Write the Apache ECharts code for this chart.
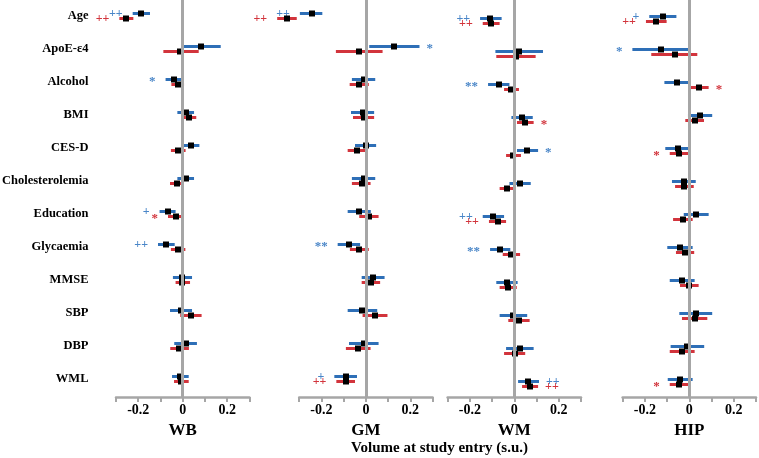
<!DOCTYPE html>
<html>
<head>
<meta charset="utf-8">
<script src="https://cdn.jsdelivr.net/npm/echarts@6/dist/echarts.min.js"></script>
<style>html,body{margin:0;padding:0;background:#fff}#c{width:759px;height:458px}</style>
</head>
<body>
<div id="c"></div>
<script>
// ---------- DATA ----------
const categories = ['Age','ApoE-ε4','Alcohol','BMI','CES-D','Cholesterolemia','Education','Glycaemia','MMSE','SBP','DBP','WML'];
const panelNames = ['WB','GM','WM','HIP'];
const tickLabels = ['-0.2','0','0.2'];
const axisTitle = 'Volume at study entry (s.u.)';

// WB
const wbBlueEst = [-0.188, 0.084, -0.041, 0.013, 0.037, 0.013, -0.068, -0.074, -0.002, -0.008, 0.013, -0.011];
const wbBlueLo  = [-0.225, 0.000, -0.077, -0.024, 0.000, -0.024, -0.104, -0.111, -0.044, -0.057, -0.038, -0.048];
const wbBlueHi  = [-0.147, 0.171, 0.000, 0.051, 0.075, 0.051, -0.032, -0.036, 0.042, 0.042, 0.064, 0.027];
const wbRedEst  = [-0.254, -0.011, -0.021, 0.027, -0.021, -0.026, -0.030, -0.020, -0.002, 0.036, -0.017, -0.006];
const wbRedLo   = [-0.285, -0.087, -0.051, -0.006, -0.053, -0.057, -0.066, -0.053, -0.032, -0.011, -0.056, -0.039];
const wbRedHi   = [-0.222, 0.072, 0.006, 0.061, 0.013, 0.004, 0.003, 0.012, 0.033, 0.085, 0.028, 0.027];
const wbBlueMark = ['++','','*','','','','+','++','','','',''];
const wbRedMark  = ['++','','','','','','*','','','','',''];

// GM
const gmBlueEst = [-0.244, 0.127, -0.010, -0.015, -0.001, -0.010, -0.030, -0.078, 0.031, -0.017, -0.010, -0.091];
const gmBlueLo  = [-0.297, 0.015, -0.063, -0.067, -0.049, -0.063, -0.082, -0.127, -0.019, -0.082, -0.076, -0.142];
const gmBlueHi  = [-0.196, 0.241, 0.042, 0.037, 0.046, 0.042, 0.022, -0.026, 0.084, 0.051, 0.057, -0.040];
const gmRedEst  = [-0.355, -0.030, -0.030, -0.010, -0.039, -0.019, 0.012, -0.031, 0.022, 0.040, -0.036, -0.091];
const gmRedLo   = [-0.399, -0.135, -0.073, -0.058, -0.082, -0.063, -0.030, -0.072, -0.019, -0.015, -0.090, -0.133];
const gmRedHi   = [-0.311, 0.075, 0.013, 0.037, 0.001, 0.021, 0.057, 0.013, 0.064, 0.097, 0.021, -0.049];
const gmBlueMark = ['++','*','','','','','','**','','','','+'];
const gmRedMark  = ['++','','','','','','','','','','','++'];

// WM
const wmBlueEst = [-0.108, 0.021, -0.070, 0.035, 0.058, 0.026, -0.094, -0.066, -0.033, -0.004, 0.026, 0.063];
const wmBlueLo  = [-0.154, -0.085, -0.118, -0.013, 0.012, -0.022, -0.142, -0.109, -0.081, -0.066, -0.037, 0.017];
const wmBlueHi  = [-0.057, 0.129, -0.022, 0.083, 0.107, 0.074, -0.046, -0.018, 0.015, 0.058, 0.087, 0.111];
const wmRedEst  = [-0.103, 0.006, -0.013, 0.048, -0.004, -0.033, -0.075, -0.013, -0.027, 0.021, 0.002, 0.072];
const wmRedLo   = [-0.142, -0.081, -0.046, 0.012, -0.037, -0.066, -0.114, -0.052, -0.066, -0.027, -0.046, 0.035];
const wmRedHi   = [-0.066, 0.096, 0.021, 0.087, 0.030, 0.002, -0.037, 0.026, 0.011, 0.069, 0.049, 0.107];
const wmBlueMark = ['++','','**','','*','','++','**','','','','++'];
const wmRedMark  = ['++','','','*','','','++','','','','','++'];

// HIP
const hipBlueEst = [-0.118, -0.127, -0.057, 0.048, -0.052, -0.024, 0.029, -0.042, -0.033, 0.030, -0.010, -0.042];
const hipBlueLo  = [-0.180, -0.256, -0.112, -0.006, -0.108, -0.078, -0.025, -0.099, -0.088, -0.045, -0.084, -0.097];
const hipBlueHi  = [-0.058, 0.000, 0.000, 0.103, 0.003, 0.029, 0.087, 0.015, 0.024, 0.103, 0.067, 0.015];
const hipRedEst  = [-0.148, -0.066, 0.042, 0.024, -0.048, -0.024, -0.028, -0.019, 0.000, 0.024, -0.033, -0.048];
const hipRedLo   = [-0.195, -0.171, 0.004, -0.018, -0.088, -0.064, -0.073, -0.060, -0.042, -0.033, -0.088, -0.088];
const hipRedHi   = [-0.102, 0.036, 0.087, 0.066, -0.003, 0.020, 0.015, 0.022, 0.042, 0.081, 0.024, -0.003];
const hipBlueMark = ['+','*','','','','','','','','','',''];
const hipRedMark  = ['++','','*','','*','','','','','','','*'];

// ---------- LAYOUT / STYLE ----------
const FONT = '"Liberation Serif", "Times New Roman", serif';
const BLUE = '#2e6fb7', RED = '#d2343c', BLUE_MARK = '#4a86c8', RED_MARK = '#d2343c';
const AXIS_GREY = '#a6a6a6';
const panelLeft = [116, 299.2, 447.6, 622.6];
const panelWidth = 133.4;
const panelRowTop = [15.3, 15.5, 20.2, 18.5]; // pixel centre of first row
const ROW_PX = 33, GRID_H = 397;

const panelSeries = [
  [[wbBlueEst, wbBlueLo, wbBlueHi, wbBlueMark], [wbRedEst, wbRedLo, wbRedHi, wbRedMark]],
  [[gmBlueEst, gmBlueLo, gmBlueHi, gmBlueMark], [gmRedEst, gmRedLo, gmRedHi, gmRedMark]],
  [[wmBlueEst, wmBlueLo, wmBlueHi, wmBlueMark], [wmRedEst, wmRedLo, wmRedHi, wmRedMark]],
  [[hipBlueEst, hipBlueLo, hipBlueHi, hipBlueMark], [hipRedEst, hipRedLo, hipRedHi, hipRedMark]]
];

function makeRender(color, markColor, offset, marks) {
  return function (params, api) {
    const row = api.value(0), est = api.value(1), lo = api.value(2), hi = api.value(3);
    const pE = api.coord([est, row]);
    const xLo = api.coord([lo, row])[0];
    const xHi = api.coord([hi, row])[0];
    const y = Math.round(pE[1] + offset) + 0.5;
    const cx = Math.round(pE[0]);
    const children = [
      { type: 'line', shape: { x1: xLo, y1: y, x2: xHi, y2: y }, style: { stroke: color, lineWidth: 3 } },
      { type: 'rect', shape: { x: cx - 3, y: y - 3, width: 6, height: 6 }, style: { fill: '#000', stroke: null } }
    ];
    const m = marks[params.dataIndex];
    if (m) {
      const left = est < 0;
      const star = m.indexOf('*') >= 0;
      children.push({
        type: 'text',
        style: {
          text: m, x: left ? xLo - 10 : xHi + 7, y: y + (star ? 2 : 0),
          align: left ? 'right' : 'left', verticalAlign: 'middle',
          fill: markColor, font: 'bold ' + (star ? 13 : 12) + 'px ' + FONT
        }
      });
    }
    return { type: 'group', children: children };
  };
}

const grids = [], xAxes = [], yAxes = [], series = [];
panelNames.forEach((name, p) => {
  grids.push({ left: panelLeft[p], width: panelWidth, top: 0, height: GRID_H, containLabel: false });
  xAxes.push({
    type: 'value', gridIndex: p, min: -0.3, max: 0.3, interval: 0.1,
    name: name, nameLocation: 'middle', nameGap: 23,
    nameTextStyle: { fontFamily: FONT, fontWeight: 'bold', fontSize: 17, color: '#000' },
    axisLine: { show: true, onZero: false, lineStyle: { color: AXIS_GREY, width: 2.5 } },
    axisTick: { show: true, length: 5, lineStyle: { color: AXIS_GREY, width: 2 } },
    splitLine: { show: false },
    axisLabel: {
      margin: 6, fontFamily: FONT, fontWeight: 'bold', fontSize: 14, color: '#000',
      formatter: function (v) {
        const r = Math.round(v * 10) / 10;
        const s = r === 0 ? '0' : r.toFixed(1);
        return tickLabels.indexOf(s) >= 0 ? s : '';
      }
    }
  });
  const yMin = -panelRowTop[p] / ROW_PX;
  yAxes.push({ type: 'value', gridIndex: p, inverse: true, min: yMin, max: yMin + GRID_H / ROW_PX, show: false });

  // zero reference line
  series.push({
    type: 'line', xAxisIndex: p, yAxisIndex: p, data: [], z: 1, silent: true,
    markLine: {
      silent: true, symbol: 'none', animation: false, label: { show: false },
      lineStyle: { color: AXIS_GREY, width: 3, type: 'solid' },
      data: [{ xAxis: 0 }]
    }
  });

  const [blue, red] = panelSeries[p];
  [[blue, BLUE, BLUE_MARK, -2.7], [red, RED, RED_MARK, 2.7]].forEach(([s, col, mcol, off]) => {
    series.push({
      type: 'custom', xAxisIndex: p, yAxisIndex: p, clip: false, z: 3, silent: true, animation: false,
      renderItem: makeRender(col, mcol, off, s[3]),
      encode: { x: [1, 2, 3], y: 0 },
      data: categories.map((c, i) => [i, s[0][i], s[1][i], s[2][i]])
    });
  });
});

// row labels (drawn on WB panel)
series.push({
  type: 'custom', xAxisIndex: 0, yAxisIndex: 0, clip: false, z: 4, silent: true, animation: false,
  encode: { y: 0 },
  data: categories.map((c, i) => [i]),
  renderItem: function (params, api) {
    const pt = api.coord([-0.3, api.value(0)]);
    return {
      type: 'text',
      style: {
        text: categories[params.dataIndex], x: pt[0] - 27.5, y: pt[1],
        align: 'right', verticalAlign: 'middle', fill: '#000', font: 'bold 12.5px ' + FONT
      }
    };
  }
});

const chart = echarts.init(document.getElementById('c'), null, { renderer: 'canvas' });
chart.setOption({
  animation: false,
  backgroundColor: '#fff',
  grid: grids, xAxis: xAxes, yAxis: yAxes, series: series,
  graphic: [{
    type: 'text', x: 439.5, y: 448,
    style: { text: axisTitle, align: 'center', verticalAlign: 'middle', fill: '#000', font: 'bold 15px ' + FONT }
  }]
});
</script>
</body>
</html>
